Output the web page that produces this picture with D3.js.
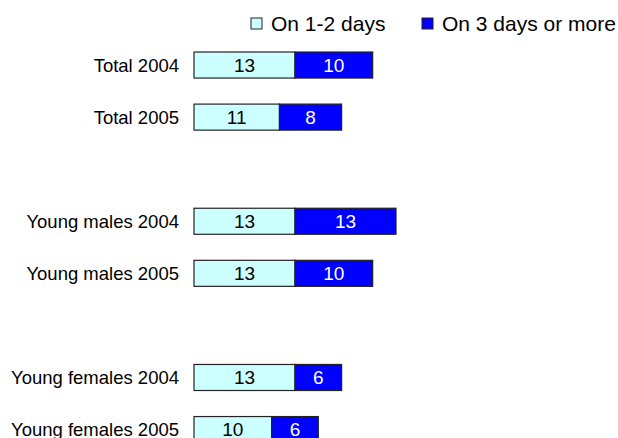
<!DOCTYPE html>
<html>
<head>
<meta charset="utf-8">
<script src="https://cdn.jsdelivr.net/npm/d3@7/dist/d3.min.js"></script>
<style>
  html, body { margin: 0; padding: 0; background: #fff; }
  svg { display: block; font-family: "Liberation Sans", Arial, sans-serif; }
</style>
</head>
<body>
<svg id="chart" width="618" height="438"></svg>
<script>
// Rows of the chart; blank entries are spacer rows between groups
const categories = ["Total 2004", "Total 2005", "", "Young males 2004", "Young males 2005", " ", "Young females 2004", "Young females 2005"];
const seriesNames = ["On 1-2 days", "On 3 days or more"];
const days12 = [13, 11, null, 13, 13, null, 13, 10];
const days3plus = [10, 8, null, 13, 10, null, 6, 6];
const colors = ["#CCFFFF", "#0000FF"];
const textColors = ["#000", "#fff"];

const svg = d3.select("#chart");

const x = d3.scaleLinear().domain([0, 26]).range([194, 396]);
const y = d3.scaleBand()
  .domain(categories)
  .range([39, 455.6])
  .paddingInner(0.5)
  .paddingOuter(0.25);

const rows = categories.map((c, i) => ({ cat: c, values: [days12[i], days3plus[i]] }))
  .filter(d => d.values[0] != null);

const stacked = d3.stack().keys([0, 1]).value((d, k) => d.values[k])(rows);

// Stacked bar segments with their value labels
stacked.forEach((layer, k) => {
  const g = svg.append("g");
  g.selectAll("rect").data(layer).join("rect")
    .attr("x", d => x(d[0]))
    .attr("y", d => y(d.data.cat))
    .attr("width", d => x(d[1]) - x(d[0]))
    .attr("height", y.bandwidth())
    .attr("fill", colors[k])
    .attr("stroke", "#222")
    .attr("stroke-width", 1.2);
  g.selectAll("text").data(layer).join("text")
    .attr("x", d => (x(d[0]) + x(d[1])) / 2)
    .attr("y", d => y(d.data.cat) + y.bandwidth() / 2)
    .attr("dy", "0.36em")
    .attr("text-anchor", "middle")
    .attr("font-size", 19)
    .attr("fill", textColors[k])
    .text(d => d[1] - d[0]);
});

// Category labels
svg.append("g").selectAll("text").data(rows).join("text")
  .attr("x", 179)
  .attr("y", d => y(d.cat) + y.bandwidth() / 2)
  .attr("dy", "0.36em")
  .attr("text-anchor", "end")
  .attr("font-size", 18.5)
  .attr("fill", "#000")
  .text(d => d.cat);

// Legend
const legendX = [251, 422];
const legend = svg.append("g").selectAll("g").data(seriesNames).join("g")
  .attr("transform", (d, i) => `translate(${legendX[i]},18)`);
legend.append("rect")
  .attr("width", 11).attr("height", 11)
  .attr("fill", (d, i) => colors[i])
  .attr("stroke", "#222").attr("stroke-width", 1);
legend.append("text")
  .attr("x", 20).attr("y", 5.5).attr("dy", "0.36em")
  .attr("font-size", 21)
  .attr("fill", "#000")
  .text(d => d);
</script>
</body>
</html>
